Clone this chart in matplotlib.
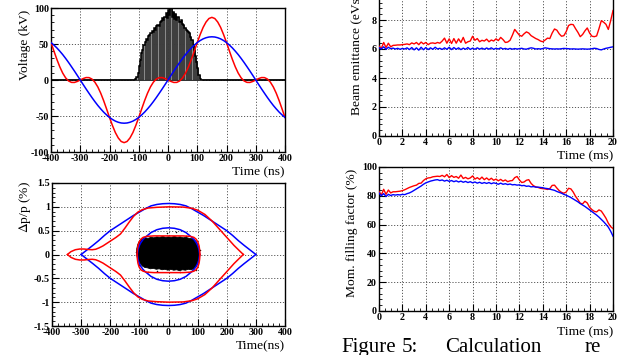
import numpy as np
import matplotlib
matplotlib.use('Agg')
import matplotlib.pyplot as plt
from matplotlib.ticker import MultipleLocator

plt.rcParams['font.family'] = ['Liberation Serif', 'DejaVu Serif']
plt.rcParams['axes.unicode_minus'] = False
plt.rcParams['mathtext.fontset'] = 'stix'

# ---------------- data: RF voltage (top-left) ----------------
volt_t = np.arange(-400, 401, 10)
volt_single = [52.0, 48.5, 44.6, 40.1, 35.3, 30.0, 24.4, 18.5, 12.5, 6.3,
               0.0, -6.3, -12.5, -18.5, -24.4, -30.0, -35.3, -40.1, -44.6, -48.5,
               -52.0, -54.8, -57.1, -58.7, -59.7, -60.0, -59.7, -58.7, -57.1, -54.8,
               -52.0, -48.5, -44.6, -40.1, -35.3, -30.0, -24.4, -18.5, -12.5, -6.3,
               0.0, 6.3, 12.5, 18.5, 24.4, 30.0, 35.3, 40.1, 44.6, 48.5,
               52.0, 54.8, 57.1, 58.7, 59.7, 60.0, 59.7, 58.7, 57.1, 54.8,
               52.0, 48.5, 44.6, 40.1, 35.3, 30.0, 24.4, 18.5, 12.5, 6.3,
               0.0, -6.3, -12.5, -18.5, -24.4, -30.0, -35.3, -40.1, -44.6, -48.5,
               -52.0]
volt_dual = [52.0, 40.2, 28.7, 18.3, 9.6, 3.0, -1.3, -3.3, -3.4, -2.0,
             0.0, 2.0, 3.4, 3.3, 1.3, -3.0, -9.6, -18.3, -28.7, -40.2,
             -52.0, -63.1, -73.0, -80.5, -85.4, -87.0, -85.4, -80.5, -73.0, -63.1,
             -52.0, -40.2, -28.7, -18.3, -9.6, -3.0, 1.3, 3.3, 3.4, 2.0,
             0.0, -2.0, -3.4, -3.3, -1.3, 3.0, 9.6, 18.3, 28.7, 40.2,
             52.0, 63.1, 73.0, 80.5, 85.4, 87.0, 85.4, 80.5, 73.0, 63.1,
             52.0, 40.2, 28.7, 18.3, 9.6, 3.0, -1.3, -3.3, -3.4, -2.0,
             0.0, 2.0, 3.4, 3.3, 1.3, -3.0, -9.6, -18.3, -28.7, -40.2,
             -52.0]

# bunch profile histogram (bin centres, ns; heights, arb.)
hist_centers = np.arange(-110, 111, 4)
hist_vals = [1, 4, 10, 19, 28, 37, 42, 49, 53, 57, 55, 61, 62, 65, 68, 66,
             72, 70, 75, 77, 75, 80, 82, 86, 83, 88, 93, 86, 97, 90, 100, 88,
             95, 85, 91, 84, 87, 81, 80, 83, 78, 77, 72, 70, 68, 67, 65, 60,
             55, 49, 41, 33, 25, 16, 7, 2]

# ---------------- data: phase space (bottom-left) ----------------
sep1_t = [-300, -280, -260, -240, -220, -200, -180, -160, -140, -120, -100, -80, -60, -40, -20,
          0, 20, 40, 60, 80, 100, 120, 140, 160, 180, 200, 220, 240, 260, 280, 300]
sep1_dp = [0.0, 0.095, 0.19, 0.29, 0.40, 0.50, 0.58, 0.66, 0.74, 0.82, 0.89, 0.96, 1.02, 1.05, 1.065,
           1.07, 1.065, 1.05, 1.02, 0.96, 0.89, 0.82, 0.74, 0.66, 0.58, 0.50, 0.40, 0.29, 0.19, 0.095, 0.0]

in1_t = [-107, -104, -100, -95, -88, -80, -60, -40, -20, 0, 20, 40, 60, 80, 88, 95, 100, 104, 107]
in1_dp = [0.0, 0.12, 0.19, 0.25, 0.31, 0.36, 0.46, 0.52, 0.55, 0.56, 0.55, 0.52, 0.46, 0.36, 0.31, 0.25, 0.19, 0.12, 0.0]

sep2_t = [-347, -335, -320, -305, -290, -275, -262, -250, -238, -225, -210, -195, -180, -165, -150,
          -135, -120, -105, -90, -70, -40, 0, 50, 80, 100, 125, 150, 175, 200, 225, 245, 257]
sep2_dp = [0.0, 0.06, 0.10, 0.115, 0.115, 0.105, 0.10, 0.11, 0.14, 0.18, 0.24, 0.30, 0.36, 0.43, 0.55,
           0.68, 0.80, 0.89, 0.94, 0.975, 0.99, 1.0, 0.995, 0.97, 0.93, 0.84, 0.70, 0.53, 0.36, 0.19,
           0.07, 0.0]

in2_t = [-108, -107, -105, -101, -95, -87, -75, -50, 0, 50, 75, 87, 95, 101, 105, 107, 108]
in2_up = [0.0, 0.09, 0.18, 0.26, 0.32, 0.36, 0.38, 0.39, 0.39, 0.39, 0.38, 0.36, 0.32, 0.26, 0.18, 0.09, 0.0]
in2_lo = [0.0, -0.09, -0.18, -0.26, -0.32, -0.35, -0.37, -0.38, -0.38, -0.38, -0.37, -0.35, -0.32, -0.26, -0.18, -0.09, 0.0]

bunch_t = [-110, -109, -106, -102, -96, -88, -80, -70, -60, -50, -40, -30, -20, -10, 0, 10, 20, 30, 40,
           50, 60, 70, 80, 88, 95, 100, 104, 106,
           106, 104, 100, 94, 86, 78, 68, 58, 48, 38, 28, 18, 8, -2, -12, -22, -32, -42, -52,
           -62, -72, -82, -90, -97, -103, -107]
bunch_dp = [0.02, 0.12, 0.20, 0.26, 0.31, 0.33, 0.35, 0.34, 0.36, 0.35, 0.37, 0.36, 0.38, 0.36, 0.37,
            0.36, 0.38, 0.36, 0.37, 0.35, 0.36, 0.34, 0.33, 0.31, 0.27, 0.21, 0.13, 0.04,
            -0.05, -0.13, -0.20, -0.26, -0.30, -0.32, -0.31, -0.33, -0.32, -0.34, -0.32, -0.33, -0.31,
            -0.33, -0.31, -0.32, -0.30, -0.31, -0.29, -0.30, -0.28, -0.27, -0.24, -0.19, -0.13, -0.07]
stray_t = [-5, 25, -70, 40, 95, -112, 108, -100, 60, -40]
stray_dp = [0.46, 0.47, -0.36, -0.37, -0.33, 0.05, 0.10, -0.21, 0.39, -0.35]

# ---------------- data: emittance and filling factor (right) ----------------
ms_t = np.round(np.arange(0, 20.01, 0.2), 1)
emit_single = [6.10, 6.00, 6.15, 5.98, 6.12, 6.02, 6.06, 6.00, 6.05, 5.98,
               6.04, 6.00, 6.08, 5.96, 6.10, 5.94, 6.08, 5.92, 6.12, 5.95,
               6.10, 5.96, 6.08, 5.98, 6.12, 6.00, 6.05, 5.97, 6.08, 5.98,
               6.12, 5.96, 6.10, 5.98, 6.08, 5.96, 6.06, 5.98, 6.10, 5.97,
               6.06, 5.98, 6.08, 5.99, 6.06, 5.98, 6.07, 5.99, 6.08, 5.98,
               6.05, 6.00, 6.08, 6.00, 6.04, 5.98, 6.04, 5.99, 6.03, 6.00,
               6.02, 6.05, 6.00, 5.99, 6.04, 6.08, 6.05, 6.00, 6.02, 6.00,
               6.03, 6.08, 6.05, 6.02, 6.01, 6.00, 6.01, 6.00, 6.02, 6.04,
               6.03, 6.02, 6.00, 6.01, 6.00, 5.99, 6.00, 6.01, 6.00, 5.99,
               6.00, 6.02, 6.05, 6.03, 5.97, 5.94, 6.00, 6.05, 6.08, 6.12,
               6.15]
emit_dual = [6.20, 6.05, 6.45, 6.10, 6.40, 6.15, 6.25, 6.26, 6.28, 6.28,
             6.30, 6.32, 6.35, 6.30, 6.42, 6.35, 6.45, 6.30, 6.48, 6.35,
             6.45, 6.30, 6.40, 6.42, 6.38, 6.45, 6.40, 6.55, 6.75, 6.40,
             6.70, 6.38, 6.72, 6.40, 6.70, 6.45, 6.80, 6.40, 6.50, 6.55,
             6.88, 6.60, 6.72, 6.50, 6.60, 6.55, 6.68, 6.50, 6.62, 6.55,
             6.70, 6.58, 6.80, 6.65, 6.45, 6.48, 6.60, 6.95, 7.35, 7.15,
             6.95, 6.88, 7.05, 7.18, 7.10, 6.92, 6.82, 6.72, 6.65, 6.55,
             6.50, 6.62, 6.75, 6.72, 7.10, 7.38, 7.30, 7.05, 6.88, 6.92,
             7.20, 7.62, 7.70, 7.68, 7.40, 7.15, 6.85, 7.00, 7.25, 7.45,
             7.10, 6.88, 6.85, 6.90, 7.40, 7.95, 7.85, 7.70, 7.35, 7.95,
             8.65]
fill_single = [82.0, 80.0, 81.5, 79.5, 81.0, 80.2, 80.8, 80.5, 80.8, 80.6,
               81.0, 80.8, 81.5, 82.0, 82.8, 83.8, 84.8, 85.8, 86.8, 88.0,
               89.0, 89.6, 90.2, 90.6, 91.0, 91.2, 90.6, 91.0, 90.2, 90.8,
               90.0, 90.6, 89.8, 90.4, 89.6, 90.2, 89.4, 90.0, 89.2, 89.8,
               89.0, 89.6, 88.8, 89.4, 88.6, 89.2, 88.6, 89.2, 88.4, 89.0,
               88.6, 88.0, 88.8, 88.0, 88.4, 87.8, 88.2, 87.6, 87.8, 87.4,
               87.6, 87.0, 87.2, 86.6, 86.8, 86.2, 86.4, 86.0, 86.0, 85.8,
               85.6, 85.2, 85.0, 84.6, 84.2, 83.8, 83.0, 82.4, 81.8, 81.0,
               80.4, 79.6, 78.8, 77.8, 76.8, 75.8, 74.6, 73.6, 72.6, 71.4,
               70.2, 69.0, 67.8, 66.6, 65.2, 63.6, 62.0, 60.2, 58.2, 55.4,
               52.0]
fill_dual = [83.0, 80.5, 84.5, 81.0, 84.0, 82.0, 82.8, 82.8, 83.0, 83.2,
             83.6, 84.2, 85.0, 85.8, 86.4, 87.0, 87.4, 88.6, 88.8, 90.6,
             91.8, 92.4, 92.6, 93.2, 93.4, 93.6, 93.4, 94.2, 93.2, 94.8,
             92.6, 94.0, 92.8, 93.4, 92.2, 94.4, 92.0, 92.8, 91.8, 92.4,
             93.8, 91.6, 92.6, 91.4, 93.0, 91.2, 92.4, 91.0, 92.2, 90.8,
             91.6, 90.4, 91.4, 90.2, 91.0, 89.8, 90.4, 90.6, 92.6, 93.4,
             91.0, 89.2, 89.6, 90.8, 91.2, 88.6, 87.0, 86.2, 85.8, 85.2,
             85.0, 84.8, 84.4, 85.0, 87.2, 87.4, 85.4, 83.6, 82.4, 81.8,
             82.6, 85.2, 84.8, 82.6, 79.6, 77.4, 74.8, 74.4, 76.2, 75.0,
             72.0, 70.4, 69.2, 68.8, 70.2, 69.4, 67.0, 64.4, 61.0, 58.6,
             57.2]

# tick labels
ns_ticks = [-400, -300, -200, -100, 0, 100, 200, 300, 400]
ns_labels = ['-400', '-300', '-200', '-100', '0', '100', '200', '300', '400']
kv_ticks = [-100, -50, 0, 50, 100]
kv_labels = ['-100', '-50', '0', '50', '100']
dp_ticks = [-1.5, -1.0, -0.5, 0.0, 0.5, 1.0, 1.5]
dp_labels = ['-1.5', '-1', '-0.5', '0', '0.5', '1', '1.5']
ms_ticks = [0, 2, 4, 6, 8, 10, 12, 14, 16, 18, 20]
ms_labels = ['0', '2', '4', '6', '8', '10', '12', '14', '16', '18', '20']
em_ticks = [0, 2, 4, 6, 8, 10]
em_labels = ['0', '2', '4', '6', '8', '10']
ff_ticks = [0, 20, 40, 60, 80, 100]
ff_labels = ['0', '20', '40', '60', '80', '100']

RED = '#ff0000'
BLUE = '#0000ff'
W, H = 623, 355
fig = plt.figure(figsize=(W / 100, H / 100), dpi=100)


def px_axes(l, t, r, b):
    return fig.add_axes([l / W, 1 - b / H, (r - l) / W, (b - t) / H])


def style(ax, xt, xl, yt, yl, xmin, ymin, xlim, ylim):
    ax.set_xlim(*xlim)
    ax.set_ylim(*ylim)
    ax.set_xticks(xt)
    ax.set_xticklabels(xl, fontweight='bold', fontsize=7.2)
    ax.set_yticks(yt)
    ax.set_yticklabels(yl, fontweight='bold', fontsize=7.2)
    ax.xaxis.set_minor_locator(MultipleLocator(xmin))
    ax.yaxis.set_minor_locator(MultipleLocator(ymin))
    ax.tick_params(which='major', direction='in', length=5, width=0.8,
                   top=False, right=False, pad=1.5)
    ax.tick_params(which='minor', direction='in', length=2.5, width=0.6,
                   top=False, right=False)
    ax.grid(True, which='major', color='0.35', linestyle=(0, (1.2, 1.8)), linewidth=0.7)
    for s in ax.spines.values():
        s.set_linewidth(1.0)


def ylab(x, ybottom, text):
    fig.text(x / W, 1 - ybottom / H, text, rotation=90, ha='center', va='bottom', fontsize=9.7)


def xlab(xright, yc, text):
    fig.text(xright / W, 1 - yc / H, text, ha='right', va='center', fontsize=9.7)


# ---- top-left: voltage ----
ax1 = px_axes(51, 8, 285, 152)
ax1.axhline(0, color='black', lw=1.3, zorder=2)
ax1.bar(hist_centers, hist_vals, width=4, color='#8a8a8a', edgecolor='#2a2a2a', linewidth=0.5, zorder=2)
edges = np.append(hist_centers - 2, hist_centers[-1] + 2)
ax1.stairs(hist_vals, edges, color='black', lw=1.1, zorder=2.5)
ax1.plot(volt_t, volt_dual, color=RED, lw=1.1, zorder=3)
ax1.plot(volt_t, volt_single, color=BLUE, lw=1.1, zorder=3)
style(ax1, ns_ticks, ns_labels, kv_ticks, kv_labels, 20, 10, (-400, 400), (-100, 100))
ylab(25, 80, 'Voltage (kV)')
xlab(285, 172, 'Time (ns)')

# ---- bottom-left: phase space ----
ax2 = px_axes(52, 183, 285, 326)
ax2.fill(bunch_t, bunch_dp, color='black', lw=0.6, zorder=2)
ax2.scatter(stray_t, stray_dp, s=1.2, color='black', zorder=2, linewidths=0)
s1t = np.array(sep1_t); s1d = np.array(sep1_dp)
ax2.plot(s1t, s1d, color=BLUE, lw=1.1, zorder=3)
ax2.plot(s1t, -s1d, color=BLUE, lw=1.1, zorder=3)
i1t = np.array(in1_t); i1d = np.array(in1_dp)
ax2.plot(i1t, i1d, color=BLUE, lw=1.1, zorder=3)
ax2.plot(i1t, -i1d, color=BLUE, lw=1.1, zorder=3)
s2t = np.array(sep2_t); s2d = np.array(sep2_dp)
ax2.plot(s2t, s2d, color=RED, lw=1.1, zorder=3)
ax2.plot(s2t, -s2d, color=RED, lw=1.1, zorder=3)
ax2.plot(in2_t, in2_up, color=RED, lw=1.1, zorder=3)
ax2.plot(in2_t, in2_lo, color=RED, lw=1.1, zorder=3)
style(ax2, ns_ticks, ns_labels, dp_ticks, dp_labels, 20, 0.1, (-400, 400), (-1.5, 1.5))
ylab(25, 233, r'$\Delta$p/p (%)')
xlab(285, 346, 'Time(ns)')

# ---- top-right: emittance ----
ax3 = px_axes(379, -9, 613, 136)
ax3.plot(ms_t, emit_dual, color=RED, lw=1.0, zorder=3)
ax3.plot(ms_t, emit_single, color=BLUE, lw=1.0, zorder=3)
style(ax3, ms_ticks, ms_labels, em_ticks, em_labels, 0.5, 0.4, (0, 20), (0, 10))
ylab(357, 115, 'Beam emittance (eVs)')
xlab(613, 156, 'Time (ms)')

# ---- bottom-right: filling factor ----
ax4 = px_axes(379, 167, 613, 311)
ax4.plot(ms_t, fill_dual, color=RED, lw=1.0, zorder=3)
ax4.plot(ms_t, fill_single, color=BLUE, lw=1.0, zorder=3)
style(ax4, ms_ticks, ms_labels, ff_ticks, ff_labels, 0.5, 4, (0, 20), (0, 100))
ylab(352, 297, 'Mom. filling factor (%)')
xlab(613, 332, 'Time (ms)')

# ---- caption fragment ----
for word, xp in [('Figure', 341), ('5:', 402), ('Calculation', 445), ('re', 585)]:
    fig.text(xp / W, 1 - 352 / H, word, ha='left', va='baseline', fontsize=15)

fig.savefig('out.png', dpi=100)
